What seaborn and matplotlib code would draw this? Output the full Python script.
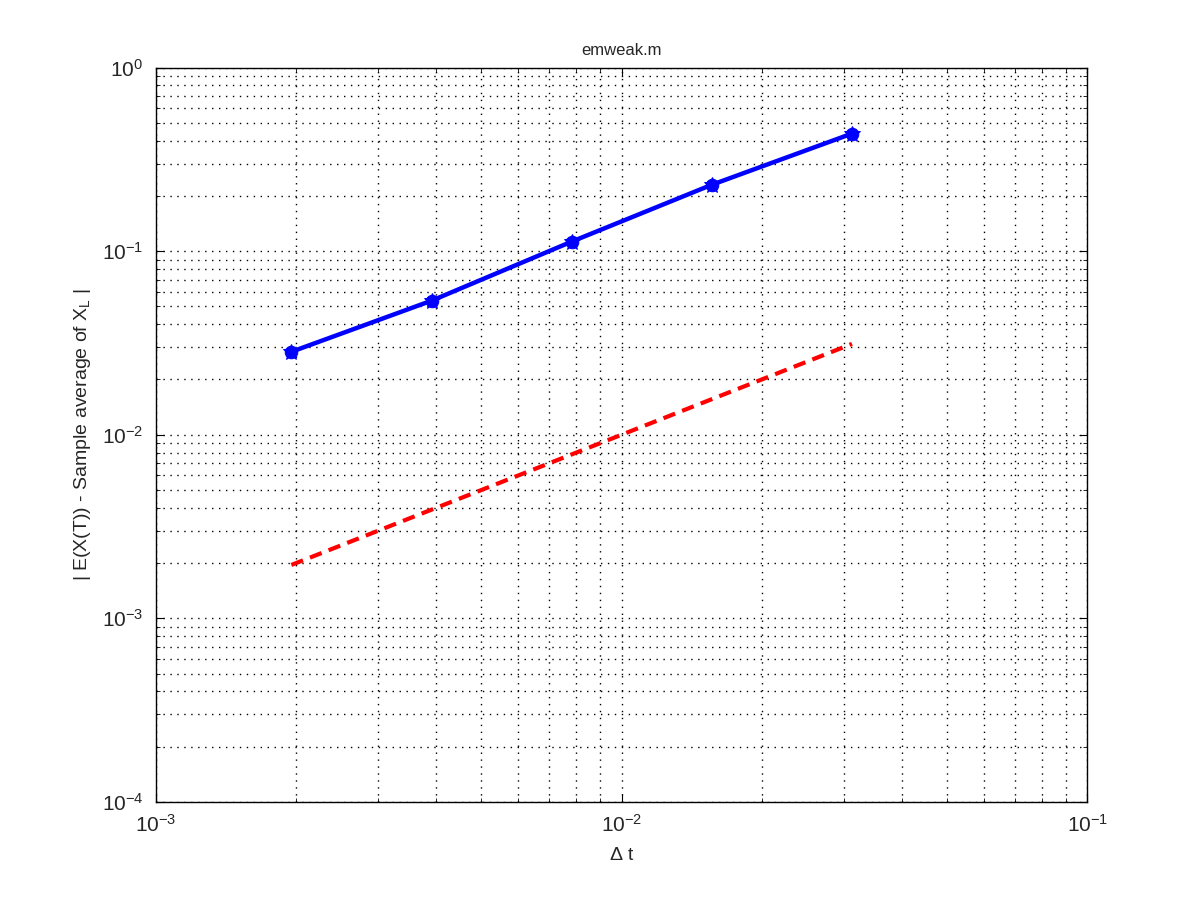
import numpy as np
import pandas as pd
import matplotlib
matplotlib.use("Agg")
import matplotlib.pyplot as plt
import seaborn as sns

dt_vals = [2**-9, 2**-8, 2**-7, 2**-6, 2**-5]
weak_err = [0.0283, 0.0537, 0.1127, 0.230, 0.437]
ref_line = [2**-9, 2**-8, 2**-7, 2**-6, 2**-5]

sns.set_style("ticks")
plt.rcParams['font.family'] = ['Liberation Sans', 'DejaVu Sans']
plt.rcParams['mathtext.fontset'] = 'custom'
plt.rcParams['mathtext.rm'] = 'Liberation Sans'
plt.rcParams['mathtext.it'] = 'Liberation Sans'

fig = plt.figure(figsize=(12, 9.01), dpi=100)
ax = fig.add_axes([0.13, 0.11, 0.776, 0.815])

df = pd.DataFrame({"dt": dt_vals, "err": weak_err, "ref": ref_line})
sns.lineplot(data=df, x="dt", y="err", ax=ax, color="blue", linewidth=3.2,
             marker="o", markersize=9, markeredgecolor="blue", markerfacecolor="blue")
sns.lineplot(data=df, x="dt", y="err", ax=ax, color="blue", linewidth=0,
             marker="*", markersize=12, markeredgecolor="blue", markerfacecolor="blue")
sns.lineplot(data=df, x="dt", y="ref", ax=ax, color="red", linewidth=3,
             linestyle=(0, (3, 1.8)))

ax.set_xscale("log")
ax.set_yscale("log")
ax.set_xlim(1e-3, 1e-1)
ax.set_ylim(1e-4, 1e0)

ax.grid(True, which="major", linestyle=(0, (1, 4)), color="black", linewidth=1)
ax.grid(True, which="minor", linestyle=(0, (1, 4)), color="black", linewidth=1)
ax.tick_params(which="both", direction="in", top=True, right=True, labelsize=15,
               color="black")
ax.tick_params(which="major", length=6, pad=9)
ax.tick_params(which="minor", length=3)
for s in ax.spines.values():
    s.set_color("black")
    s.set_linewidth(1)

ax.set_xlabel(r"$\Delta$ t", fontsize=14, labelpad=8)
ax.set_ylabel(r"| E(X(T)) - Sample average of X$_{\rm L}$ |", fontsize=14, labelpad=6)
ax.set_title("emweak.m", fontsize=12, pad=9)

fig.savefig("out.png", dpi=100)
